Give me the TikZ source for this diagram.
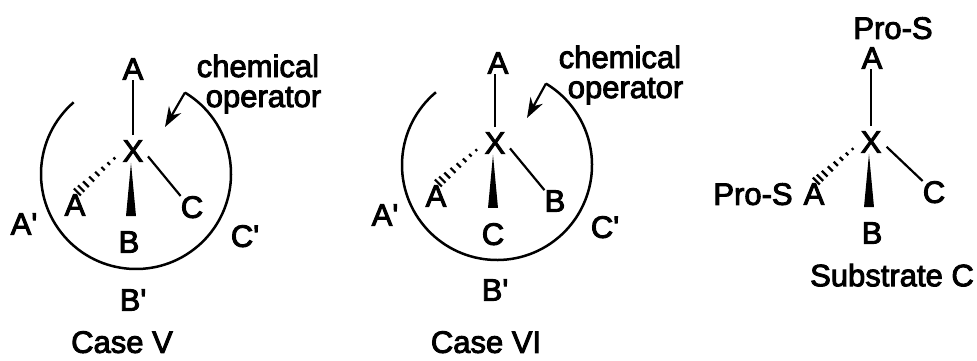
\documentclass[tikz,border=0pt]{standalone}
\usepackage{fontspec}
\setmainfont{Liberation Sans}
\newfontfamily\scanfont{Liberation Sans}[FakeBold=3]
\usetikzlibrary{positioning,arrows.meta,calc}

% hashed bond, dashes get wider towards the far end
\newcommand{\hashbond}[2]{
  \foreach \t/\w in {0.17/0.9,0.29/1.3,0.41/1.7,0.53/2.1,0.65/2.5,0.77/2.9,0.87/3.2,0.95/3.5}{
    \draw[hash] ($(#1)!\t!(#2)+(-\w,-\w)$) -- ($(#1)!\t!(#2)+(\w,\w)$);
  }
}
% solid wedge, apex under the centre atom
\newcommand{\wedgebond}[2]{
  \fill[black] ($(#1.south)+(-2,1)$) -- ($(#1.south|-#2.north)+(-7,-15)$) -- ($(#1.south|-#2.north)+(3,-15)$) -- cycle;
}

\begin{document}
\begin{tikzpicture}[
  x=1pt, y=-1pt,
  font=\scanfont\fontsize{31}{30}\selectfont,
  atom/.style={inner sep=0pt, text depth=0pt},
  caption/.style={atom},
  bond/.style={line width=2.2pt, draw=black},
  toA/.style={bond, shorten <=5pt},
  toC/.style={bond, shorten <=7pt},
  hash/.style={line width=2.2pt, draw=black},
  pocket/.style={line width=2.5pt, draw=black},
  opflow/.style={-{Stealth[length=20pt,width=14pt]}, line width=2.2pt, draw=black},
  oplabel/.style={inner sep=0pt, align=left},
]
\useasboundingbox (0,0) rectangle (977,360);

% ---- case V ----
\node[atom] (xv) at (133,151) {X};
\node[atom] (av) at (133,69) {A};
\node[atom] (ahv) at (75,205) {A};
\node[atom] (bv) at (129,242) {B};
\node[atom] (ccv) at (192,207) {C};
\node[atom] (apv) at (24,224) {A'};
\node[atom] (cpv) at (245,236) {C'};
\node[atom] (bpv) at (133,300) {B'};
\node[caption] (casev) at (122,342) {Case V};
\node[oplabel] (opv) at (259,84) {chemical\\\hspace*{9pt}operator};
\coordinate (cenv) at (136,174);
\coordinate (tipv) at (165,127);
\draw[pocket] (cenv) ++(229:95) arc[start angle=229, end angle=-59, radius=95] coordinate (endv);
\draw[opflow] (endv) -- (tipv);
\draw[toA] (xv.north) -- (xv.north|-av.south);
\draw[toC] (xv.east) -- (ccv.north west);
\hashbond{xv.west}{ahv.north}
\wedgebond{xv}{bv}

% ---- case VI ----
\node[atom] (xvi) at (495,143) {X};
\node[atom] (avi) at (498,63) {A};
\node[atom] (ahvi) at (436,196) {A};
\node[atom] (bvi) at (555,201) {B};
\node[atom] (cvi) at (493,234) {C};
\node[atom] (apvi) at (385,215) {A'};
\node[atom] (cpvi) at (605,227) {C'};
\node[atom] (bpvi) at (495,290) {B'};
\node[caption] (casevi) at (486,342) {Case VI};
\node[oplabel] (opvi) at (621,75) {chemical\\\hspace*{9pt}operator};
\coordinate (cenvi) at (497,165);
\coordinate (tipvi) at (527,118);
\draw[pocket] (cenvi) ++(230:95) arc[start angle=230, end angle=-59, radius=95] coordinate (endvi);
\draw[opflow] (endvi) -- (tipvi);
\draw[toA] (xvi.north) -- (xvi.north|-avi.south);
\draw[toC] (xvi.east) -- (bvi.north west);
\hashbond{xvi.west}{ahvi.north}
\wedgebond{xvi}{cvi}

% ---- substrate C ----
\node[atom] (xs) at (871,142) {X};
\node[atom] (as) at (872,58) {A};
\node[atom] (prot) at (893,28) {Pro-S};
\node[atom] (ahs) at (814,194) {A};
\node[atom] (prol) at (753,194) {Pro-S};
\node[atom] (bs) at (872,233) {B};
\node[atom] (cs) at (934,192) {C};
\node[caption] (subs) at (892,275) {Substrate C};
\draw[toA] (xs.north) -- (xs.north|-as.south);
\draw[toC] (xs.east) -- (cs.north west);
\hashbond{xs.west}{ahs.north}
\wedgebond{xs}{bs}
\end{tikzpicture}
\end{document}
